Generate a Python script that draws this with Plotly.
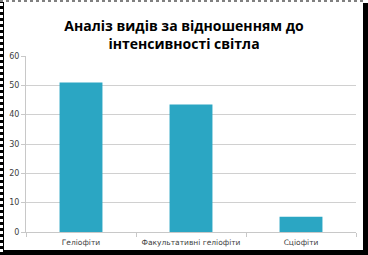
import plotly.graph_objects as go

categories = ["Геліофіти", "Факультативні геліофіти", "Сціофіти"]
values = [51, 43.5, 5.2]
y_ticks = [0, 10, 20, 30, 40, 50, 60]
title_text = "Аналіз видів за відношенням до<br>інтенсивності світла"

W, H = 368, 255
L, R, T, B = 26, 12, 56, 23
pw, ph = W - L - R, H - T - B

def px(x):
    return (x - L) / pw

def py(y):
    return (H - B - y) / ph

fig = go.Figure(go.Bar(x=categories, y=values, marker=dict(color="#2BA6C3", line=dict(width=0)), width=0.39))

fig.update_layout(
    width=W, height=H,
    margin=dict(l=L, r=R, t=T, b=B, autoexpand=False),
    paper_bgcolor="white", plot_bgcolor="white",
    showlegend=False,
    title=dict(text=title_text, x=0.5, xanchor="center", y=1 - 31 / H, yanchor="middle",
               font=dict(family="Open Sans", size=14, color="black", weight="bold")),
    font=dict(family="DejaVu Sans", size=8, color="#404040"),
)
fig.update_yaxes(range=[0, 60], tickvals=y_ticks, showgrid=True, gridcolor="#D0D0D0", gridwidth=1,
                 showline=True, linecolor="#C8C8C8", ticks="outside", ticklen=4, tickcolor="#C8C8C8",
                 zeroline=False, automargin=False, tickfont=dict(size=8, color="#404040"))
fig.update_xaxes(showline=True, linecolor="#C8C8C8", ticks="outside", ticklen=4, tickcolor="#C8C8C8",
                 tickson="boundaries", showgrid=False, tickangle=0, automargin=False,
                 ticklabelstandoff=3, tickfont=dict(size=7.5, color="#404040"))

shapes = [
    dict(type="rect", xref="paper", yref="paper", x0=px(363), x1=px(368), y0=py(255), y1=py(3),
         fillcolor="black", line=dict(width=0), layer="above"),
    dict(type="rect", xref="paper", yref="paper", x0=px(3), x1=px(368), y0=py(255), y1=py(250),
         fillcolor="black", line=dict(width=0), layer="above"),
    dict(type="line", xref="paper", yref="paper", x0=px(1.5), x1=px(1.5), y0=py(0), y1=py(255),
         line=dict(color="black", width=3, dash="dot"), layer="above"),
    dict(type="line", xref="paper", yref="paper", x0=px(3.5), x1=px(3.5), y0=py(2), y1=py(250),
         line=dict(color="black", width=1), layer="above"),
    dict(type="line", xref="paper", yref="paper", x0=px(0), x1=px(365), y0=py(1), y1=py(1),
         line=dict(color="#808080", width=2, dash="dot"), layer="above"),
]
fig.update_layout(shapes=shapes)

fig.write_html("out.html")
